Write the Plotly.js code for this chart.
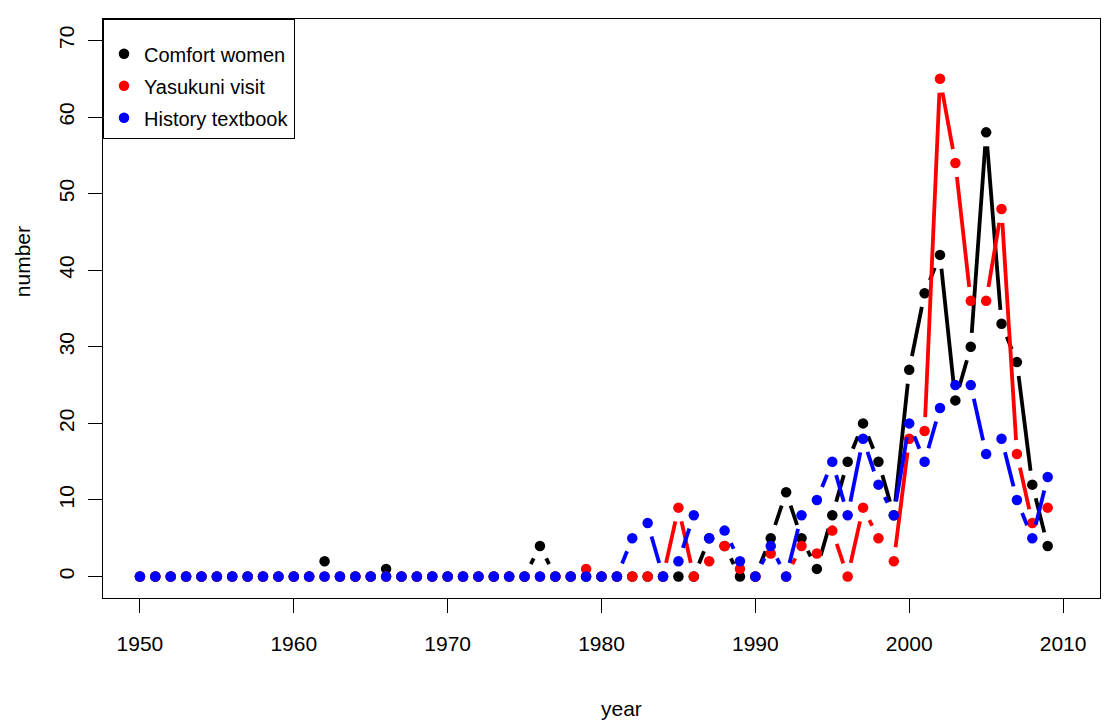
<!DOCTYPE html>
<html>
<head>
<meta charset="utf-8">
<script src="https://cdn.plot.ly/plotly-3.0.1.min.js"></script>
<style>
  html, body { margin: 0; padding: 0; background: #ffffff; }
  #chart { width: 1110px; height: 722px; }
</style>
</head>
<body>
<div id="chart"></div>
<script>
// ---- data ----
const years = [1950, 1951, 1952, 1953, 1954, 1955, 1956, 1957, 1958, 1959,
               1960, 1961, 1962, 1963, 1964, 1965, 1966, 1967, 1968, 1969,
               1970, 1971, 1972, 1973, 1974, 1975, 1976, 1977, 1978, 1979,
               1980, 1981, 1982, 1983, 1984, 1985, 1986, 1987, 1988, 1989,
               1990, 1991, 1992, 1993, 1994, 1995, 1996, 1997, 1998, 1999,
               2000, 2001, 2002, 2003, 2004, 2005, 2006, 2007, 2008, 2009];

const comfortWomen = [0, 0, 0, 0, 0, 0, 0, 0, 0, 0,
                      0, 0, 2, 0, 0, 0, 1, 0, 0, 0,
                      0, 0, 0, 0, 0, 0, 4, 0, 0, 0,
                      0, 0, 0, 0, 0, 0, 0, 5, 4, 0,
                      0, 5, 11, 5, 1, 8, 15, 20, 15, 8,
                      27, 37, 42, 23, 30, 58, 33, 28, 12, 4];

const yasukuniVisit = [0, 0, 0, 0, 0, 0, 0, 0, 0, 0,
                       0, 0, 0, 0, 0, 0, 0, 0, 0, 0,
                       0, 0, 0, 0, 0, 0, 0, 0, 0, 1,
                       0, 0, 0, 0, 0, 9, 0, 2, 4, 1,
                       0, 3, 0, 4, 3, 6, 0, 9, 5, 2,
                       18, 19, 65, 54, 36, 36, 48, 16, 7, 9];

const historyTextbook = [0, 0, 0, 0, 0, 0, 0, 0, 0, 0,
                         0, 0, 0, 0, 0, 0, 0, 0, 0, 0,
                         0, 0, 0, 0, 0, 0, 0, 0, 0, 0,
                         0, 0, 5, 7, 0, 2, 8, 5, 6, 2,
                         0, 4, 0, 8, 10, 15, 8, 18, 12, 8,
                         20, 15, 22, 25, 25, 16, 18, 10, 5, 13];

const seriesNames = ["Comfort women", "Yasukuni visit", "History textbook"];
const xTickVals = [1950, 1960, 1970, 1980, 1990, 2000, 2010];
const yTickVals = [0, 10, 20, 30, 40, 50, 60, 70];
const xTitle = "year";
const yTitle = "number";

// ---- style / layout constants ----
const W = 1110, H = 722;
const M = { l: 103, r: 10, t: 19, b: 124 };
const xRange = [1947.6, 2012.4];
const yRange = [-2.8, 72.8];
const GAP = 14;           // px gap left around each point (R type = "b")
const FONT = "'Liberation Sans', Arial, Helvetica, sans-serif";
const AX_SIZE = 21, LEG_SIZE = 20;
const colors = ["#000000", "#ff0000", "#0000ff"];

// Build line pieces that stop short of each point, like R's type="b".
function gappedLine(xs, ys) {
  const plotW = W - M.l - M.r, plotH = H - M.t - M.b;
  const sx = plotW / (xRange[1] - xRange[0]);
  const sy = plotH / (yRange[1] - yRange[0]);
  const X = [], Y = [];
  for (let i = 0; i < xs.length - 1; i++) {
    const ddx = xs[i + 1] - xs[i], ddy = ys[i + 1] - ys[i];
    const d = Math.hypot(ddx * sx, ddy * sy);
    if (d > 2 * GAP) {
      const f = GAP / d;
      X.push(xs[i] + f * ddx, xs[i] + (1 - f) * ddx, null);
      Y.push(ys[i] + f * ddy, ys[i] + (1 - f) * ddy, null);
    }
  }
  return { x: X, y: Y };
}

const allSeries = [comfortWomen, yasukuniVisit, historyTextbook];
const traces = [];
allSeries.forEach((vals, k) => {
  const seg = gappedLine(years, vals);
  traces.push({
    type: "scatter", mode: "lines", x: seg.x, y: seg.y,
    line: { color: colors[k], width: 3.8 },
    showlegend: false, hoverinfo: "skip", connectgaps: false,
    legendgroup: "g" + k
  });
  traces.push({
    type: "scatter", mode: "markers", x: years, y: vals,
    name: seriesNames[k],
    marker: { color: colors[k], size: 10.5, symbol: "circle", line: { width: 0 } },
    legendgroup: "g" + k, cliponaxis: false
  });
});

const axisCommon = {
  showline: true, mirror: true, linecolor: "#000000", linewidth: 1,
  ticks: "outside", ticklen: 14, tickwidth: 1, tickcolor: "#000000",
  showgrid: false, zeroline: false, fixedrange: true,
  tickfont: { family: FONT, size: AX_SIZE, color: "#000000" }
};

const layout = {
  width: W, height: H,
  margin: { l: M.l, r: M.r, t: M.t, b: M.b, pad: 0 },
  paper_bgcolor: "#ffffff", plot_bgcolor: "#ffffff",
  font: { family: FONT, size: AX_SIZE, color: "#000000" },
  showlegend: true,
  legend: {
    x: 0, y: 1, xanchor: "left", yanchor: "top",
    bgcolor: "#ffffff", bordercolor: "#000000", borderwidth: 1,
    font: { family: FONT, size: LEG_SIZE, color: "#000000" },
    title: { text: "\u00a0", font: { family: FONT, size: 11, color: "#ffffff" } },
    tracegroupgap: 3
  },
  xaxis: Object.assign({}, axisCommon, {
    range: xRange, tickmode: "array", tickvals: xTickVals,
    ticktext: xTickVals.map(String), ticklabelstandoff: 13
  }),
  yaxis: Object.assign({}, axisCommon, {
    range: yRange, tickmode: "array", tickvals: yTickVals,
    ticktext: yTickVals.map(String), tickangle: -90, ticklabelstandoff: 6
  }),
  annotations: [
    { text: xTitle, xref: "paper", yref: "paper", x: 0.5196, y: -0.19,
      xanchor: "center", yanchor: "middle", showarrow: false,
      font: { family: FONT, size: AX_SIZE, color: "#000000" } },
    { text: yTitle, xref: "paper", yref: "paper", x: -0.0812, y: 0.58,
      xanchor: "center", yanchor: "middle", showarrow: false, textangle: -90,
      font: { family: FONT, size: AX_SIZE, color: "#000000" } }
  ]
};

Plotly.newPlot("chart", traces, layout, { displayModeBar: false, staticPlot: true });
</script>
</body>
</html>
